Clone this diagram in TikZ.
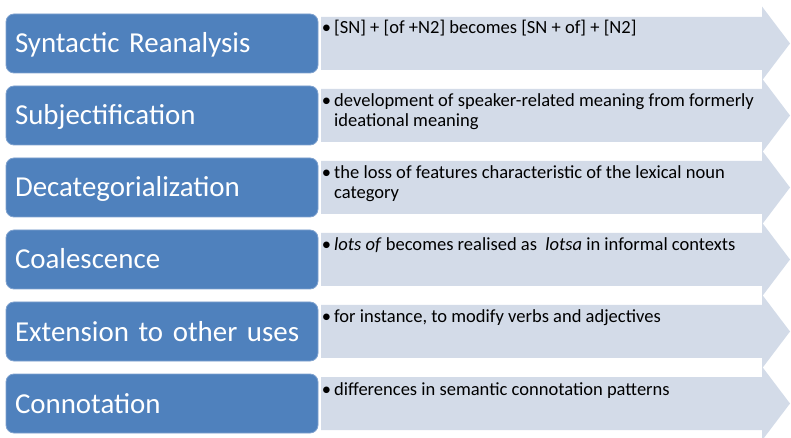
\documentclass[tikz,border=0pt]{standalone}
\usepackage{fontspec}
\setmainfont{Carlito}
\definecolor{boxblue}{HTML}{4F81BD}
\definecolor{boxedge}{HTML}{7FA2CF}
\definecolor{arrowfill}{HTML}{D3DBE8}
\newcommand{\bul}{\llap{\textbullet\hspace{3bp}}}

\begin{document}
\begin{tikzpicture}[x=1bp,y=-1bp,
  stagebox/.style={fill=boxblue, draw=boxedge, line width=0.8bp,
    rounded corners=8bp, anchor=north west, outer sep=0pt,
    minimum width=312bp, minimum height=59bp,
    inner xsep=9bp, inner ysep=0pt, text width=294bp, align=left,
    text height=19bp, text depth=0pt, text=white,
    font=\fontsize{29}{30}\selectfont},
  note/.style={anchor=base west, inner sep=0pt, align=left,
    font=\fontsize{18.6}{20.5}\selectfont},
  band/.style={fill=arrowfill},
]
\useasboundingbox (0,0) rectangle (791,438);

% light arrow bands behind each stage
\foreach \t in {14,86,158,230,302,374} {
  \fill[band] (321,\t+3) -- (762,\t+3) -- (762,\t-7.5) -- (790,\t+29.5)
    -- (762,\t+66.5) -- (762,\t+56) -- (321,\t+56) -- cycle;
}

% stage boxes
\node[stagebox] (s1) at (6,14)  {Syntactic Reanalysis};
\node[stagebox] (s2) at (6,86)  {Subjectification};
\node[stagebox] (s3) at (6,158) {Decategorialization};
\node[stagebox] (s4) at (6,230) {Coalescence};
\node[stagebox] (s5) at (6,302) {Extension to other uses};
\node[stagebox] (s6) at (6,374) {Connotation};

% descriptions (two-line notes are placed by the baseline of their last line)
\node[note] (d1) at (334,34)  {\bul[SN] + [of +N2] becomes [SN + of] + [N2]};
\node[note] (d2) at (334,127) {\bul development of speaker-related meaning from formerly\\ideational meaning};
\node[note] (d3) at (334,199) {\bul the loss of features characteristic of the lexical noun\\category};
\node[note] (d4) at (334,251) {\bul\textit{lots of} becomes realised as \ \textit{lotsa} in informal contexts};
\node[note] (d5) at (334,323) {\bul for instance, to modify verbs and adjectives};
\node[note] (d6) at (334,395) {\bul differences in semantic connotation patterns};
\end{tikzpicture}
\end{document}
